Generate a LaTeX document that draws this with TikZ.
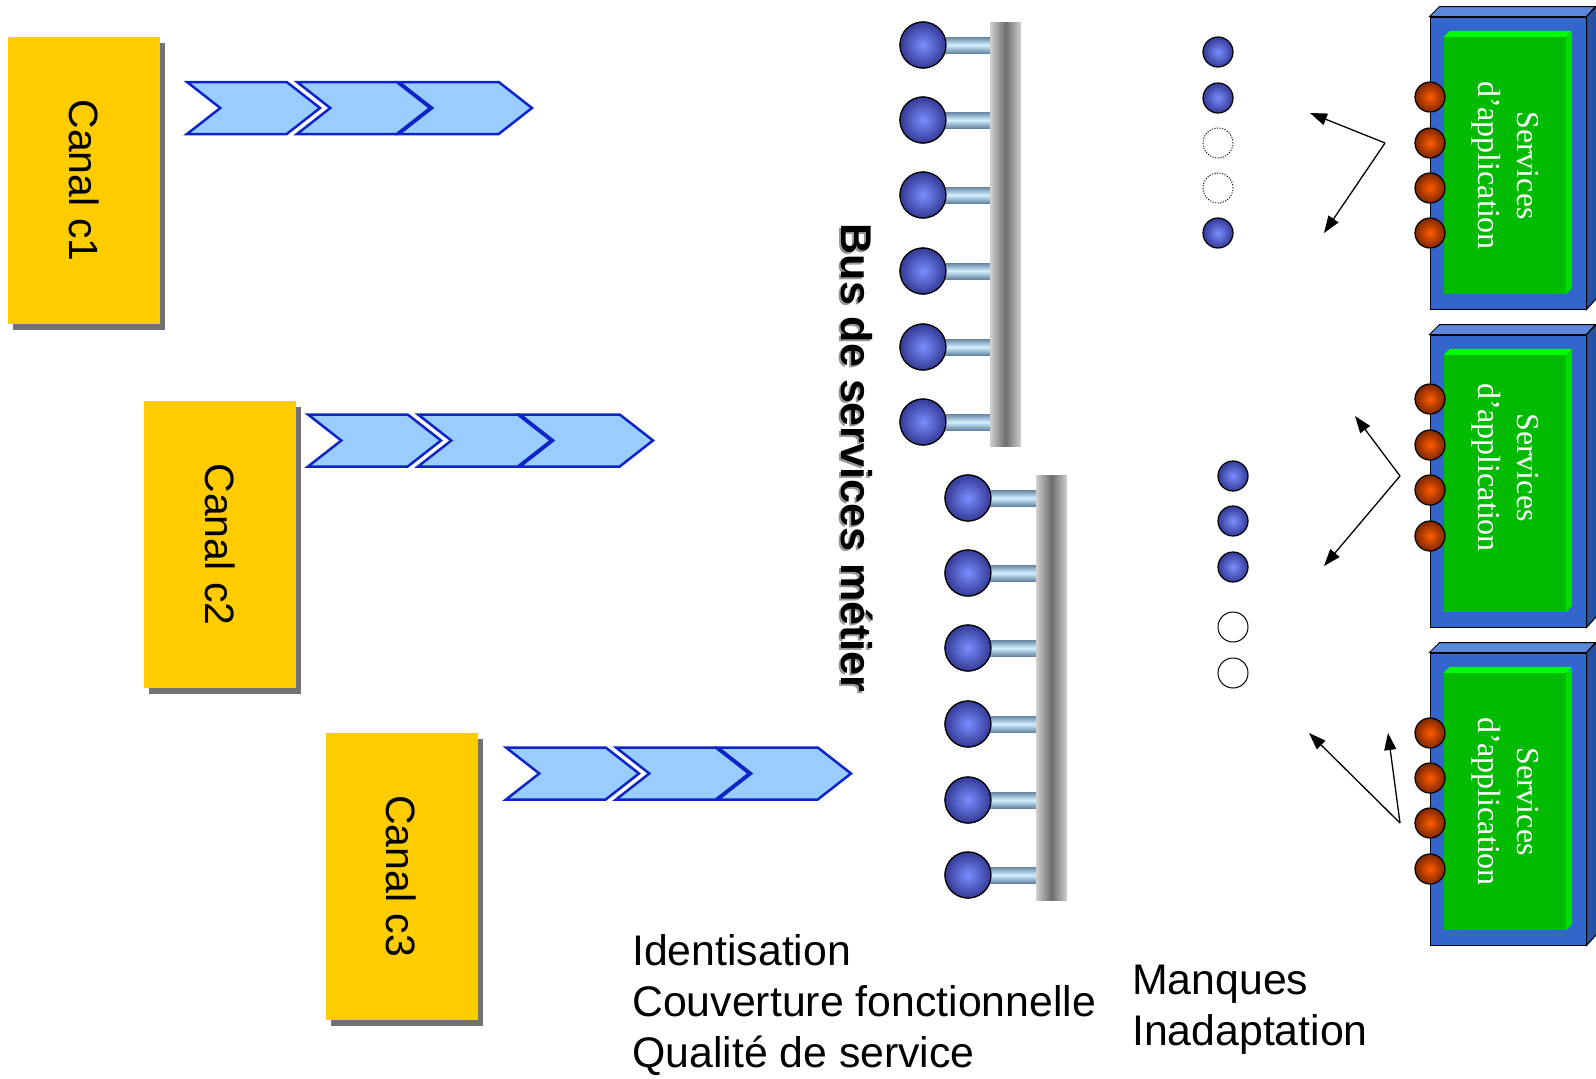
\documentclass[tikz,border=0pt]{standalone}
\usepackage{fontspec}
\setmainfont{Liberation Sans}
\newfontfamily\servfont{Liberation Serif}
\usetikzlibrary{shapes.symbols,arrows.meta,calc,shadows}
\definecolor{canalyellow}{RGB}{255,204,0}
\definecolor{shadowgray}{RGB}{115,115,115}
\definecolor{chevfill}{RGB}{153,204,255}
\definecolor{chevline}{RGB}{12,36,200}
\definecolor{ballin}{RGB}{122,142,255}
\definecolor{ballout}{RGB}{52,58,150}
\definecolor{orangein}{RGB}{255,92,0}
\definecolor{orangeout}{RGB}{125,38,0}
\definecolor{barlight}{RGB}{208,208,208}
\definecolor{bardark}{RGB}{108,108,108}
\definecolor{stemlight}{RGB}{212,240,255}
\definecolor{stemdark}{RGB}{100,135,165}
\definecolor{boxblue}{RGB}{51,102,204}
\definecolor{boxtop}{RGB}{92,136,220}
\definecolor{boxside}{RGB}{40,80,160}
\definecolor{appgreen}{RGB}{0,187,0}
\definecolor{greentop}{RGB}{0,255,0}
\definecolor{greenside}{RGB}{0,222,0}

\begin{document}
\begin{tikzpicture}[x=1pt,y=-1pt]
\tikzset{canal/.style = {rectangle,fill=canalyellow,minimum width=152pt,minimum height=287pt,inner sep=0pt,
  drop shadow={shadow xshift=5pt,shadow yshift=-6pt,fill=shadowgray,opacity=1}}}
\tikzset{canaltext/.style = {rotate=-90,font=\fontsize{41}{48}\selectfont}}
\tikzset{chev/.style = {signal,signal from=west,signal to=east,signal pointer angle=76,
  minimum width=133pt,minimum height=52pt,inner sep=0pt,draw=chevline,fill=chevfill,line width=2.5pt}}
\tikzset{busbar/.style = {rectangle,minimum width=31pt,inner sep=0pt,left color=barlight,right color=barlight,middle color=bardark}}
\tikzset{stem/.style = {top color=stemdark,bottom color=stemdark,middle color=stemlight}}
\tikzset{bball/.style = {circle,minimum size=46pt,inner sep=0pt,draw=black,line width=1.2pt,inner color=ballin,outer color=ballout}}
\tikzset{sball/.style = {bball,minimum size=30pt}}
\tikzset{ghost/.style = {circle,minimum size=30pt,inner sep=0pt,draw=black,line width=0.9pt,dash pattern=on 1.2pt off 1.4pt}}
\tikzset{hollow/.style = {circle,minimum size=30pt,inner sep=0pt,draw=black,line width=1pt,fill=white}}
\tikzset{oball/.style = {circle,minimum size=30pt,inner sep=0pt,draw=black,line width=1.2pt,inner color=orangein,outer color=orangeout}}
\tikzset{appfront/.style = {rectangle,draw=black,line width=1pt,fill=boxblue,minimum width=156pt,minimum height=292pt,inner sep=0pt}}
\tikzset{apptop/.style = {draw=black,line width=1pt,fill=boxtop}}
\tikzset{appside/.style = {draw=black,line width=1pt,fill=boxside}}
\tikzset{appinner/.style = {rectangle,fill=appgreen,minimum width=122pt,minimum height=257pt,inner sep=0pt}}
\tikzset{servtext/.style = {rotate=-90,align=center,text=white,font=\servfont\fontsize{32}{39}\selectfont}}
\tikzset{buslabel/.style = {rotate=-90,inner sep=0pt,font=\bfseries\fontsize{43}{48}\selectfont}}
\tikzset{fleche/.style = {line width=1.3pt,-{Triangle[length=17pt,width=12pt]}}}
\tikzset{note/.style = {anchor=north west,align=left,inner sep=0pt,font=\fontsize{42.8}{51}\selectfont}}
\useasboundingbox (0,0) rectangle (1596,1079);
% channels
\node[canal] (c1) at (84,180.5) {};
\node[canaltext] at (c1) {Canal c1};
\node[canal] (c2) at (220,544.5) {};
\node[canaltext] at (c2) {Canal c2};
\node[canal] (c3) at (401.5,876) {};
\node[canaltext] at (c3) {Canal c3};
% flows of requests
\node[chev] (r11) at (253.5,108) {};
\node[chev] (r12) at (363.5,108) {};
\node[chev] (r13) at (465.5,108) {};
\node[chev] (r21) at (374.5,440.5) {};
\node[chev] (r22) at (484.5,440.5) {};
\node[chev] (r23) at (586.5,440.5) {};
\node[chev] (r31) at (572.5,773.5) {};
\node[chev] (r32) at (682.5,773.5) {};
\node[chev] (r33) at (784.5,773.5) {};
% upper bus
\node[busbar,minimum height=424pt] (bus1) at (1005.5,234) {};
\node[bball] (a1) at (923,45) {};
\node[bball] (a2) at (923,120) {};
\node[bball] (a3) at (923,195) {};
\node[bball] (a4) at (923,271) {};
\node[bball] (a5) at (923,347) {};
\node[bball] (a6) at (923,422) {};
\shade[stem] ($(a1)+(0,-8)$) rectangle ($(bus1.west |- a1)+(0,8)$);
\shade[stem] ($(a2)+(0,-8)$) rectangle ($(bus1.west |- a2)+(0,8)$);
\shade[stem] ($(a3)+(0,-8)$) rectangle ($(bus1.west |- a3)+(0,8)$);
\shade[stem] ($(a4)+(0,-8)$) rectangle ($(bus1.west |- a4)+(0,8)$);
\shade[stem] ($(a5)+(0,-8)$) rectangle ($(bus1.west |- a5)+(0,8)$);
\shade[stem] ($(a6)+(0,-8)$) rectangle ($(bus1.west |- a6)+(0,8)$);
\node[bball] at (a1) {};
\node[bball] at (a2) {};
\node[bball] at (a3) {};
\node[bball] at (a4) {};
\node[bball] at (a5) {};
\node[bball] at (a6) {};
% lower bus
\node[busbar,minimum height=425pt] (bus2) at (1051.5,687.5) {};
\node[bball] (b1) at (968,498) {};
\node[bball] (b2) at (968,573) {};
\node[bball] (b3) at (968,648) {};
\node[bball] (b4) at (968,724) {};
\node[bball] (b5) at (968,800) {};
\node[bball] (b6) at (968,875) {};
\shade[stem] ($(b1)+(0,-8)$) rectangle ($(bus2.west |- b1)+(0,8)$);
\shade[stem] ($(b2)+(0,-8)$) rectangle ($(bus2.west |- b2)+(0,8)$);
\shade[stem] ($(b3)+(0,-8)$) rectangle ($(bus2.west |- b3)+(0,8)$);
\shade[stem] ($(b4)+(0,-8)$) rectangle ($(bus2.west |- b4)+(0,8)$);
\shade[stem] ($(b5)+(0,-8)$) rectangle ($(bus2.west |- b5)+(0,8)$);
\shade[stem] ($(b6)+(0,-8)$) rectangle ($(bus2.west |- b6)+(0,8)$);
\node[bball] at (b1) {};
\node[bball] at (b2) {};
\node[bball] at (b3) {};
\node[bball] at (b4) {};
\node[bball] at (b5) {};
\node[bball] at (b6) {};
% bus label with its shadow
\node[buslabel,text=black!40] at (855,460) {Bus de services métier};
\node[buslabel] (bus) at (857,458) {Bus de services métier};
% services offered / missing
\node[sball] (p1) at (1218,52) {};
\node[sball] (p2) at (1218,98) {};
\node[ghost] (p3) at (1218,143) {};
\node[ghost] (p4) at (1218,188) {};
\node[sball] (p5) at (1218,233) {};
\node[sball] (q1) at (1233,476) {};
\node[sball] (q2) at (1233,521) {};
\node[sball] (q3) at (1233,567) {};
\node[hollow] (q4) at (1233,627) {};
\node[hollow] (q5) at (1233,673) {};
% application boxes
\node[appfront] (app1) at (1508,163) {};
\filldraw[apptop] (app1.north west) -- ++(10,-10) -- ++(156,0) -- (app1.north east) -- cycle;
\filldraw[appside] (app1.north east) -- ++(10,-10) -- ++(0,292) -- (app1.south east) -- cycle;
\node[appinner] (g1) at (1505,165.5) {};
\fill[greentop] (g1.north west) -- ++(6,-6) -- ++(122,0) -- (g1.north east) -- cycle;
\fill[greenside] (g1.north east) -- ++(6,-6) -- ++(0,257) -- (g1.south east) -- cycle;
\node[servtext] at (g1) {Services\\d’application};
\node[appfront] (app2) at (1508,481) {};
\filldraw[apptop] (app2.north west) -- ++(10,-10) -- ++(156,0) -- (app2.north east) -- cycle;
\filldraw[appside] (app2.north east) -- ++(10,-10) -- ++(0,292) -- (app2.south east) -- cycle;
\node[appinner] (g2) at (1505,483.5) {};
\fill[greentop] (g2.north west) -- ++(6,-6) -- ++(122,0) -- (g2.north east) -- cycle;
\fill[greenside] (g2.north east) -- ++(6,-6) -- ++(0,257) -- (g2.south east) -- cycle;
\node[servtext] at ($(g2)+(0,-16)$) {Services\\d’application};
\node[appfront] (app3) at (1508,799) {};
\filldraw[apptop] (app3.north west) -- ++(10,-10) -- ++(156,0) -- (app3.north east) -- cycle;
\filldraw[appside] (app3.north east) -- ++(10,-10) -- ++(0,292) -- (app3.south east) -- cycle;
\node[appinner] (g3) at (1505,801.5) {};
\fill[greentop] (g3.north west) -- ++(6,-6) -- ++(122,0) -- (g3.north east) -- cycle;
\fill[greenside] (g3.north east) -- ++(6,-6) -- ++(0,257) -- (g3.south east) -- cycle;
\node[servtext] at (g3) {Services\\d’application};
% ports of the applications
\node[oball] (o11) at (1430,97) {};
\node[oball] (o12) at (1430,143) {};
\node[oball] (o13) at (1430,188) {};
\node[oball] (o14) at (1430,233) {};
\node[oball] (o21) at (1430,399) {};
\node[oball] (o22) at (1430,445) {};
\node[oball] (o23) at (1430,490) {};
\node[oball] (o24) at (1430,536) {};
\node[oball] (o31) at (1430,733) {};
\node[oball] (o32) at (1430,778) {};
\node[oball] (o33) at (1430,823) {};
\node[oball] (o34) at (1430,869) {};
% arrows
\coordinate (f1) at (1385,143);
\coordinate (f1a) at (1310,113);
\coordinate (f1b) at (1324,233);
\coordinate (f2) at (1400,476);
\coordinate (f2a) at (1355,416);
\coordinate (f2b) at (1324,566);
\coordinate (f3) at (1400,823);
\coordinate (f3a) at (1309,733);
\coordinate (f3b) at (1388,733);
\draw[fleche] (f1) -- (f1a);
\draw[fleche] (f1) -- (f1b);
\draw[fleche] (f2) -- (f2a);
\draw[fleche] (f2) -- (f2b);
\draw[fleche] (f3) -- (f3a);
\draw[fleche] (f3) -- (f3b);
% texts at the bottom
\node[note] (crit) at (632,934) {Identisation\\Couverture fonctionnelle\\Qualité de service};
\node[note] (gaps) at (1132,965) {Manques\\Inadaptation};
\end{tikzpicture}
\end{document}
